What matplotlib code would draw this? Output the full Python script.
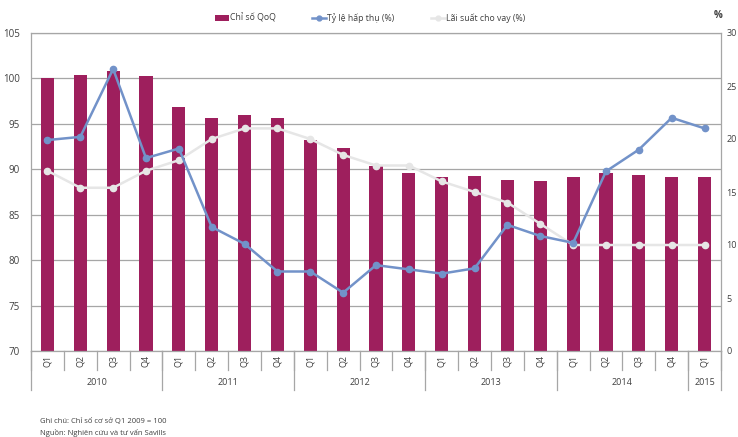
import matplotlib
matplotlib.use("Agg")
import matplotlib.pyplot as plt
from matplotlib.lines import Line2D
from matplotlib.patches import Patch
import numpy as np

plt.rcParams['font.family'] = ['Open Sans', 'DejaVu Sans']

quarters = ["Q1", "Q2", "Q3", "Q4",
            "Q1", "Q2", "Q3", "Q4",
            "Q1", "Q2", "Q3", "Q4",
            "Q1", "Q2", "Q3", "Q4",
            "Q1", "Q2", "Q3", "Q4",
            "Q1"]
years = ["2010", "2011", "2012", "2013", "2014", "2015"]
year_counts = [4, 4, 4, 4, 4, 1]

chi_so_qoq = [100.1, 100.4, 100.8, 100.3,
              96.9, 95.6, 96.0, 95.6,
              93.2, 92.3, 90.4, 89.6,
              89.1, 89.3, 88.8, 88.7,
              89.1, 89.6, 89.4, 89.2,
              89.2]
ty_le_hap_thu = [19.9, 20.2, 26.6, 18.2,
                 19.1, 11.7, 10.1, 7.5,
                 7.5, 5.5, 8.1, 7.7,
                 7.3, 7.8, 11.9, 10.85,
                 10.2, 16.95, 19.0, 22.0,
                 21.0]
lai_suat = [17.0, 15.4, 15.4, 17.0,
            18.0, 20.0, 21.0, 21.0,
            20.0, 18.5, 17.5, 17.5,
            16.0, 15.0, 14.0, 12.0,
            10.0, 10.0, 10.0, 10.0,
            10.0]

bar_color = "#9E1F5D"
blue = "#7292C9"
light = "#E6E6E6"
grid_c = "#A6A6A6"
txt_c = "#404040"

W, H = 738, 437
fig = plt.figure(figsize=(W / 100, H / 100), dpi=100)
L, R, T, B = 31, 721, 33, 351
ax = fig.add_axes([L / W, 1 - B / H, (R - L) / W, (B - T) / H])
x = np.arange(len(quarters))

ax.bar(x, [v - 70 for v in chi_so_qoq], bottom=70, width=0.4, color=bar_color, zorder=2)
ax.set_xlim(-0.5, len(quarters) - 0.5)
ax.set_ylim(70, 105)
ax.set_yticks(np.arange(70, 106, 5))
ax.yaxis.grid(True, color=grid_c, linewidth=0.9, zorder=0)
ax.set_axisbelow(True)
ax.tick_params(axis='y', length=0, labelsize=7, colors=txt_c, pad=8)
ax.set_xticks([])
for s in ax.spines.values():
    s.set_color(grid_c)
    s.set_linewidth(0.9)

ax2 = ax.twinx()
ax2.plot(x, ty_le_hap_thu, color=blue, linewidth=1.8, marker='o', markersize=4.5, zorder=4)
ax2.plot(x, lai_suat, color=light, linewidth=1.8, marker='o', markersize=4.5, zorder=3)
ax2.set_ylim(0, 30)
ax2.set_yticks(np.arange(0, 31, 5))
ax2.tick_params(axis='y', length=0, labelsize=6.5, colors=txt_c, pad=4)
for s in ax2.spines.values():
    s.set_visible(False)
ax2.set_xlim(-0.5, len(quarters) - 0.5)

# category axis
trans = ax.get_xaxis_transform()
q_bot = -19 / (B - T)
y_bot = -39 / (B - T)
for i, q in enumerate(quarters):
    ax.text(i, -0.012, q, rotation=90, ha='center', va='top', fontsize=6.5,
            color=txt_c, transform=trans)
for i in range(len(quarters) + 1):
    ax.add_line(Line2D([i - 0.5, i - 0.5], [0, q_bot], transform=trans,
                       color=grid_c, linewidth=0.9, clip_on=False))
start = 0
bounds = [-0.5]
for yr, n in zip(years, year_counts):
    center = start + (n - 1) / 2
    ax.text(center, -0.085, yr, ha='center', va='top', fontsize=6.5,
            color=txt_c, transform=trans)
    start += n
    bounds.append(start - 0.5)
for bx in bounds:
    ax.add_line(Line2D([bx, bx], [0, y_bot], transform=trans,
                       color=grid_c, linewidth=0.9, clip_on=False))

# legend
handles = [Patch(facecolor=bar_color, edgecolor='none'),
           Line2D([], [], color=blue, marker='o', markersize=3.5, linewidth=1.8),
           Line2D([], [], color=light, marker='o', markersize=3.5, linewidth=1.8)]
labels = ["Chỉ số QoQ", "Tỷ lệ hấp thụ (%)", "Lãi suất cho vay (%)"]
fig.legend(handles, labels, loc='center', bbox_to_anchor=(370 / W, 1 - 18 / H),
           ncol=3, frameon=False, fontsize=6.3, handlelength=1.6, handletextpad=0.1,
           columnspacing=4.2, labelcolor=txt_c)

fig.text(718 / W, 1 - 15 / H, "%", fontsize=7, fontweight='bold', color=txt_c,
         ha='center', va='center')

fig.text(40 / W, 1 - 421 / H, "Ghi chú: Chỉ số cơ sở Q1 2009 = 100", fontsize=5.5,
         color=txt_c, ha='left', va='center')
fig.text(40 / W, 1 - 433 / H, "Nguồn: Nghiên cứu và tư vấn Savills", fontsize=5.5,
         color=txt_c, ha='left', va='center')

fig.savefig("out.png", dpi=100)
